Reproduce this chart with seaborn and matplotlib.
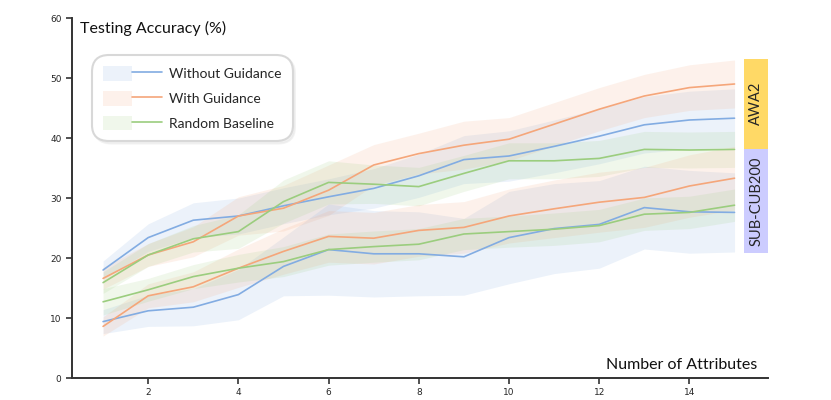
import numpy as np
import pandas as pd
import seaborn as sns
import matplotlib
matplotlib.use("Agg")
import matplotlib.pyplot as plt
from matplotlib.patches import Patch, Rectangle
from matplotlib.lines import Line2D
from matplotlib.legend_handler import HandlerTuple

# number of attributes
n_attr = list(range(1, 16))

# AWA2 (upper group)
awa_without = [18.0, 23.4, 26.3, 27.0, 28.7, 30.2, 31.6, 33.7, 36.4, 37.0, 38.6, 40.3, 42.2, 43.0, 43.3]
awa_with = [16.6, 20.5, 22.7, 27.0, 28.3, 31.3, 35.5, 37.4, 38.8, 39.8, 42.3, 44.8, 47.0, 48.4, 49.0]
awa_random = [15.9, 20.5, 23.2, 24.4, 29.4, 32.6, 32.3, 31.9, 34.1, 36.2, 36.2, 36.6, 38.1, 38.0, 38.1]
# SUB-CUB200 (lower group)
cub_without = [9.4, 11.2, 11.8, 13.9, 18.6, 21.4, 20.7, 20.7, 20.2, 23.4, 24.9, 25.6, 28.4, 27.7, 27.6]
cub_with = [8.6, 13.7, 15.2, 18.3, 21.1, 23.6, 23.3, 24.6, 25.1, 27.0, 28.2, 29.3, 30.1, 32.0, 33.3]
cub_random = [12.7, 14.7, 16.9, 18.3, 19.4, 21.4, 21.9, 22.3, 24.0, 24.4, 24.8, 25.4, 27.3, 27.6, 28.8]

# half widths of the shaded bands
awa_without_sd = [1.5, 2.3, 2.9, 3.0, 3.0, 3.0, 3.3, 3.6, 4.0, 4.2, 4.4, 4.6, 4.7, 4.8, 4.9]
awa_with_sd = [1.8, 1.9, 2.5, 3.2, 3.8, 4.2, 3.4, 3.4, 4.0, 3.6, 3.6, 3.6, 3.6, 3.8, 4.0]
awa_random_sd = [1.8, 1.9, 2.2, 2.8, 3.6, 3.6, 3.2, 3.2, 3.0, 3.0, 3.0, 3.0, 3.0, 3.0, 3.0]
cub_without_sd = [2.0, 2.6, 3.1, 4.2, 4.9, 7.6, 7.2, 7.0, 6.4, 7.7, 7.5, 7.3, 6.9, 6.9, 6.6]
cub_with_sd = [1.6, 2.0, 2.5, 3.2, 3.8, 4.3, 4.3, 4.3, 4.3, 4.5, 4.8, 5.0, 5.0, 5.2, 5.3]
cub_random_sd = [2.2, 1.9, 2.0, 2.3, 2.5, 2.6, 2.6, 2.6, 2.6, 2.6, 2.7, 2.7, 2.7, 2.7, 2.7]

methods = ["Without Guidance", "With Guidance", "Random Baseline"]
colors = ["#82ace2", "#f5a67a", "#9bcd7e"]

series = [
    (awa_without, awa_without_sd, 0), (awa_with, awa_with_sd, 1), (awa_random, awa_random_sd, 2),
    (cub_without, cub_without_sd, 0), (cub_with, cub_with_sd, 1), (cub_random, cub_random_sd, 2),
]

sns.set_style("ticks")
plt.rcParams['font.family'] = ['Lato', 'DejaVu Sans']

fig = plt.figure(figsize=(8.31, 4.0), dpi=100)
ax = fig.add_axes([0.0866, 0.055, 0.838, 0.90])

for vals, sd, k in series:
    df = pd.DataFrame({"x": n_attr, "y": vals})
    lo = np.array(vals) - np.array(sd)
    hi = np.array(vals) + np.array(sd)
    ax.fill_between(n_attr, lo, hi, color=colors[k], alpha=0.15, linewidth=0)
    sns.lineplot(data=df, x="x", y="y", color=colors[k], linewidth=1.2, ax=ax)

ax.set_xlim(0.31, 15.75)
ax.set_ylim(0, 60)
ax.set_xticks([2, 4, 6, 8, 10, 12, 14])
ax.set_yticks([0, 10, 20, 30, 40, 50, 60])
ax.set_xlabel("")
ax.set_ylabel("")
ax.tick_params(labelsize=6.5, length=4, width=1.2, color="#333333")
for lab in ax.get_xticklabels() + ax.get_yticklabels():
    lab.set_family("DejaVu Sans")
sns.despine(ax=ax)
for s in ["left", "bottom"]:
    ax.spines[s].set_linewidth(1.4)
    ax.spines[s].set_color("#333333")

ax.text(0.0115, 0.972, "Testing Accuracy (%)", transform=ax.transAxes,
        ha="left", va="center", fontsize=11.5, color="#111111")
ax.text(0.984, 0.036, "Number of Attributes", transform=ax.transAxes,
        ha="right", va="center", fontsize=11.5, color="#111111")

# dataset tags on the right
ax.add_patch(Rectangle((15.22, 38.2), 0.53, 15.0, facecolor="#ffd966",
                       edgecolor="none", clip_on=False, zorder=3))
ax.add_patch(Rectangle((15.22, 20.8), 0.53, 17.4, facecolor="#ccccff",
                       edgecolor="none", clip_on=False, zorder=3))
ax.text(15.485, 45.7, "AWA2", rotation=90, ha="center", va="center",
        fontsize=10.5, zorder=4)
ax.text(15.485, 29.5, "SUB-CUB200", rotation=90, ha="center", va="center",
        fontsize=10.5, zorder=4)

handles = [(Patch(facecolor=c, alpha=0.15, edgecolor="none"),
            Line2D([], [], color=c, linewidth=1.2)) for c in colors]
leg = ax.legend(handles, methods, handler_map={tuple: HandlerTuple(ndivide=None, pad=0)},
                loc="upper left", bbox_to_anchor=(0.029, 0.897), borderaxespad=0,
                fontsize=10, handlelength=4.2, handleheight=1.25, labelspacing=0.72,
                borderpad=0.8, handletextpad=0.55, frameon=True, fancybox=True,
                shadow={"color": "0.9", "ox": 1.5, "oy": -1.5})
frame = leg.get_frame()
frame.set_edgecolor("#d8d8d8")
frame.set_linewidth(1.5)
frame.set_alpha(1)
frame.set_boxstyle("round", pad=0, rounding_size=1.2)

fig.savefig("out.png", dpi=100)
